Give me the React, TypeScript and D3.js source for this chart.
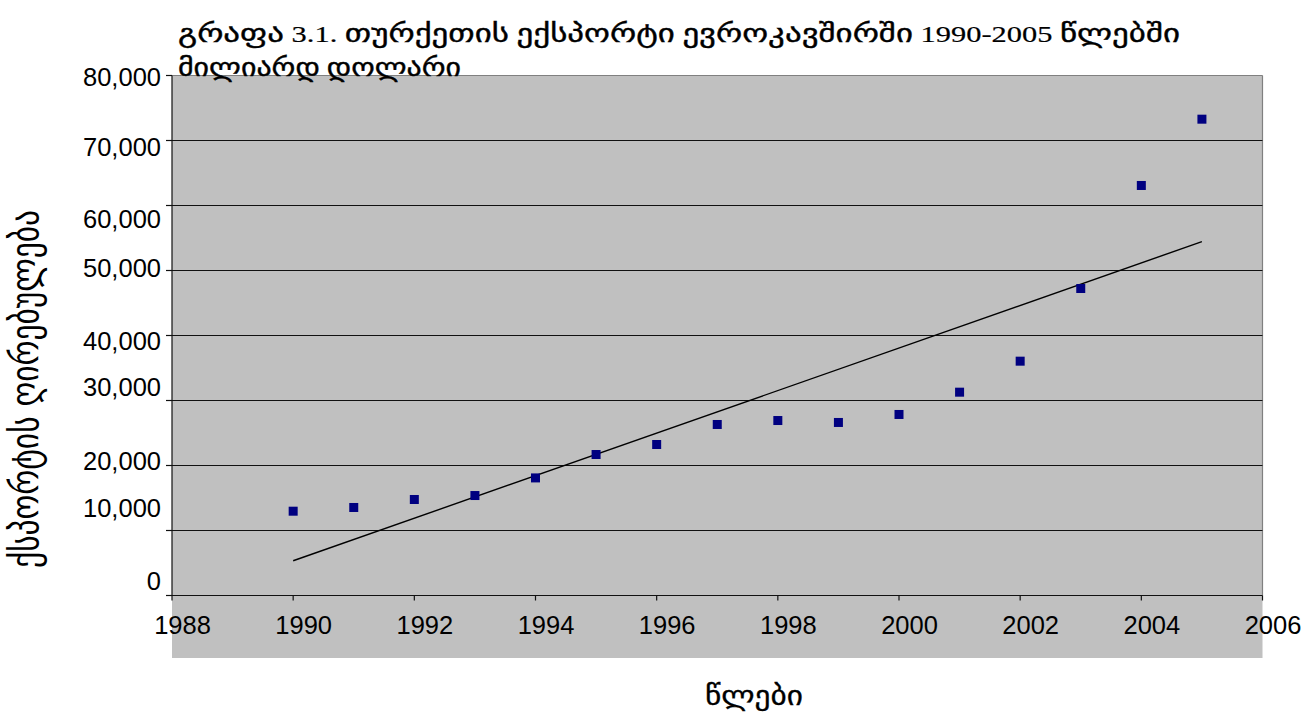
import React from 'react';
import * as d3 from 'd3';

// ---- data ----
const years = [1990, 1991, 1992, 1993, 1994, 1995, 1996, 1997, 1998, 1999, 2000, 2001, 2002, 2003, 2004, 2005];
const exportsEU = [12970, 13540, 14770, 15380, 18090, 21690, 23230, 26310, 26920, 26620, 27850, 31280, 36050, 47230, 63080, 73280];
const yTickValues = [0, 10000, 20000, 30000, 40000, 50000, 60000, 70000, 80000];
const xTickValues = [1988, 1990, 1992, 1994, 1996, 1998, 2000, 2002, 2004, 2006];
const titleLine1 = 'გრაფა 3.1. თურქეთის ექსპორტი ევროკავშირში 1990-2005 წლებში';
const titleLine2 = 'მილიარდ დოლარი';
const yAxisTitle = 'ქსპორტის ღირებულება';
const xAxisTitle = 'წლები';

// ---- layout / style ----
const W = 1307;
const H = 720;
const plot = { left: 172, right: 1262.5, top: 75.5, bottom: 595.5, bgBottom: 658 };
// vertical nudge of y tick labels (as rendered in the original)
const yLabelNudge = [-15, -23, -5, -14, 5, -2.5, 13.5, 6.5, 1.5];
const GEO = "'DejaVu Sans', sans-serif";
const LAT = "'Liberation Serif', 'DejaVu Serif', serif";
const SANS = "'Liberation Sans', Arial, sans-serif";

// split a string into Georgian / non-Georgian runs so digits use a Times-like face
function runs(s: string) {
  const out: { t: string; geo: boolean }[] = [];
  const re = /([\u10A0-\u10FF]+)|([^\u10A0-\u10FF]+)/g;
  let m: RegExpExecArray | null;
  while ((m = re.exec(s))) out.push({ t: m[0], geo: !!m[1] });
  return out;
}

export default function App() {
  const x = d3.scaleLinear().domain([1988, 2006]).range([plot.left, plot.right]);
  const y = d3.scaleLinear().domain([0, 80000]).range([plot.bottom, plot.top]);
  const fmt = d3.format(',');

  // linear trend (least squares) computed from the series
  const mx = d3.mean(years) as number;
  const my = d3.mean(exportsEU) as number;
  const sxy = d3.sum(years, (v, i) => (v - mx) * (exportsEU[i] - my));
  const sxx = d3.sum(years, (v) => (v - mx) * (v - mx));
  const slope = sxy / sxx;
  const icpt = my - slope * mx;
  const x0 = d3.min(years) as number;
  const x1 = d3.max(years) as number;
  const trend = d3.line<number>().x((v) => x(v)).y((v) => y(icpt + slope * v))([x0, x1]) || '';

  const ms = 9;

  const titleRun = (s: string) =>
    runs(s).map((r, i) =>
      r.geo ? (
        <tspan key={i} fontFamily={GEO} fontSize={26}>{r.t}</tspan>
      ) : (
        <tspan key={i} fontFamily={LAT} fontSize={24} strokeWidth={0.2}>{r.t}</tspan>
      )
    );

  return (
    <svg width={W} height={H} style={{ position: 'absolute', left: 0, top: 0, background: '#fff' }}>
      {/* plot background */}
      <rect x={plot.left} y={plot.top} width={plot.right - plot.left} height={plot.bgBottom - plot.top} fill="#C0C0C0" />
      {/* borders top/right */}
      <line x1={plot.left} x2={plot.right} y1={plot.top} y2={plot.top} stroke="#808080" strokeWidth={1.2} />
      <line x1={plot.right} x2={plot.right} y1={plot.top} y2={plot.bottom} stroke="#808080" strokeWidth={1.2} />
      {/* gridlines */}
      {yTickValues.filter((t) => t > 0 && t < 80000).map((t) => (
        <line key={'g' + t} x1={plot.left} x2={plot.right} y1={y(t)} y2={y(t)} stroke="#111" strokeWidth={1.2} />
      ))}
      {/* y axis */}
      <line x1={plot.left} x2={plot.left} y1={plot.top} y2={plot.bottom} stroke="#111" strokeWidth={1.2} />
      {yTickValues.map((t, i) => (
        <g key={'y' + t}>
          <line x1={plot.left - 6} x2={plot.left} y1={y(t)} y2={y(t)} stroke="#111" strokeWidth={1.2} />
          <text x={161} y={y(t) + yLabelNudge[i] + 9.2} textAnchor="end" fontFamily={SANS} fontSize={25.5} fill="#000">
            {fmt(t)}
          </text>
        </g>
      ))}
      {/* x axis */}
      <line x1={plot.left} x2={plot.right} y1={plot.bottom} y2={plot.bottom} stroke="#111" strokeWidth={1.2} />
      {xTickValues.map((t) => (
        <g key={'x' + t}>
          <line x1={x(t)} x2={x(t)} y1={plot.bottom} y2={plot.bottom + 5} stroke="#111" strokeWidth={1.2} />
          <text x={x(t) + 10.5} y={633.5} textAnchor="middle" fontFamily={SANS} fontSize={25.5} fill="#000">
            {t}
          </text>
        </g>
      ))}
      {/* trend line */}
      <path d={trend} fill="none" stroke="#000" strokeWidth={1.4} />
      {/* markers */}
      {years.map((yr, i) => (
        <rect key={'m' + yr} x={x(yr) - ms / 2} y={y(exportsEU[i]) - ms / 2} width={ms} height={ms} fill="#000080" />
      ))}
      {/* titles */}
      <text x={178} y={42} fill="#000" textLength={1002} lengthAdjust="spacingAndGlyphs" stroke="#000" strokeWidth={0.4}>
        {titleRun(titleLine1)}
      </text>
      <text x={178} y={76} fill="#000" textLength={283} lengthAdjust="spacingAndGlyphs" stroke="#000" strokeWidth={0.4}>
        {titleRun(titleLine2)}
      </text>
      <text
        transform={`translate(38, ${(210 + 568) / 2}) rotate(-90)`}
        textAnchor="middle"
        fontFamily={GEO}
        fontSize={38}
        fill="#000"
        textLength={358}
        lengthAdjust="spacingAndGlyphs"
      >
        {yAxisTitle}
      </text>
      <text x={754} y={705} textAnchor="middle" fontFamily={GEO} fontSize={27} fill="#000" textLength={98} lengthAdjust="spacingAndGlyphs" stroke="#000" strokeWidth={0.3}>
        {xAxisTitle}
      </text>
    </svg>
  );
}
